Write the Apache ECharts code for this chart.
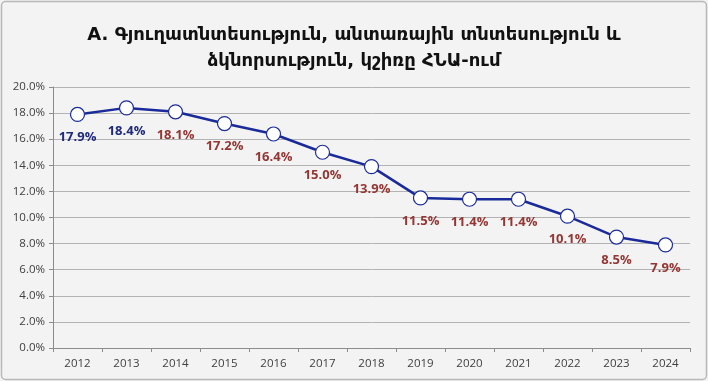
<!DOCTYPE html>
<html><head><meta charset="utf-8">
<script src="https://cdn.jsdelivr.net/npm/echarts@6/dist/echarts.min.js"></script>
<style>html,body{margin:0;padding:0;background:#fff}#c{width:708px;height:381px}</style>
</head><body><div id="c"></div>
<script>
const titleText = "A. Գյուղատնտեսություն, անտառային տնտեսություն և\nձկնորսություն, կշիռը ՀՆԱ-ում";
const years = ["2012","2013","2014","2015","2016","2017","2018","2019","2020","2021","2022","2023","2024"];
const shares = [17.9, 18.4, 18.1, 17.2, 16.4, 15.0, 13.9, 11.5, 11.4, 11.4, 10.1, 8.5, 7.9];
const labelColors = ["#1f2a7c","#1f2a7c","#943634","#943634","#943634","#943634","#943634","#943634","#943634","#943634","#943634","#943634","#943634"];
const yTicks = {min: 0, max: 20, interval: 2};

const chart = echarts.init(document.getElementById('c'), null, {renderer:'canvas'});
chart.setOption({
  backgroundColor: '#f3f3f3',
  graphic: [{type:'rect', shape:{x:1.5,y:1.5,width:705,height:378,r:4}, style:{fill:'none', stroke:'#b8b8b8', lineWidth:1.5}, silent:true}],
  title: {text: titleText, left: 'center', top: 17,
    textStyle: {fontFamily: 'DejaVu Sans', fontSize: 18, fontWeight: 'bold', color: '#111', lineHeight: 26}},
  grid: {left: 53, right: 18, top: 87, bottom: 33},
  xAxis: {type: 'category', data: years, boundaryGap: true,
    axisLine: {lineStyle: {color: '#8c8c8c'}},
    axisTick: {show: true, length: 4, lineStyle: {color: '#8c8c8c'}},
    axisLabel: {color: '#404040', fontSize: 11.5, fontFamily: 'Open Sans', margin: 10}},
  yAxis: {type: 'value', min: yTicks.min, max: yTicks.max, interval: yTicks.interval,
    axisLine: {show: true, lineStyle: {color: '#8c8c8c'}},
    axisTick: {show: true, length: 4, lineStyle: {color: '#8c8c8c'}},
    splitLine: {lineStyle: {color: '#b3b3b3', width: 1}},
    axisLabel: {color: '#404040', fontSize: 11.5, fontFamily: 'Open Sans', margin: 8,
      formatter: v => v.toFixed(1) + '%'}},
  series: [{type: 'line', data: shares.map((v,i)=>({value:v, label:{color: labelColors[i]}})),
    symbol: 'circle', symbolSize: 14,
    lineStyle: {color: '#1a2a9a', width: 2.5},
    itemStyle: {color: '#ffffff', borderColor: '#1a2a9a', borderWidth: 1.2},
    label: {show: true, position: 'bottom', distance: 9,
      fontFamily: 'Open Sans', fontWeight: 'bold', fontSize: 13,
      formatter: p => p.value.toFixed(1) + '%'}
  }]
});
</script></body></html>
